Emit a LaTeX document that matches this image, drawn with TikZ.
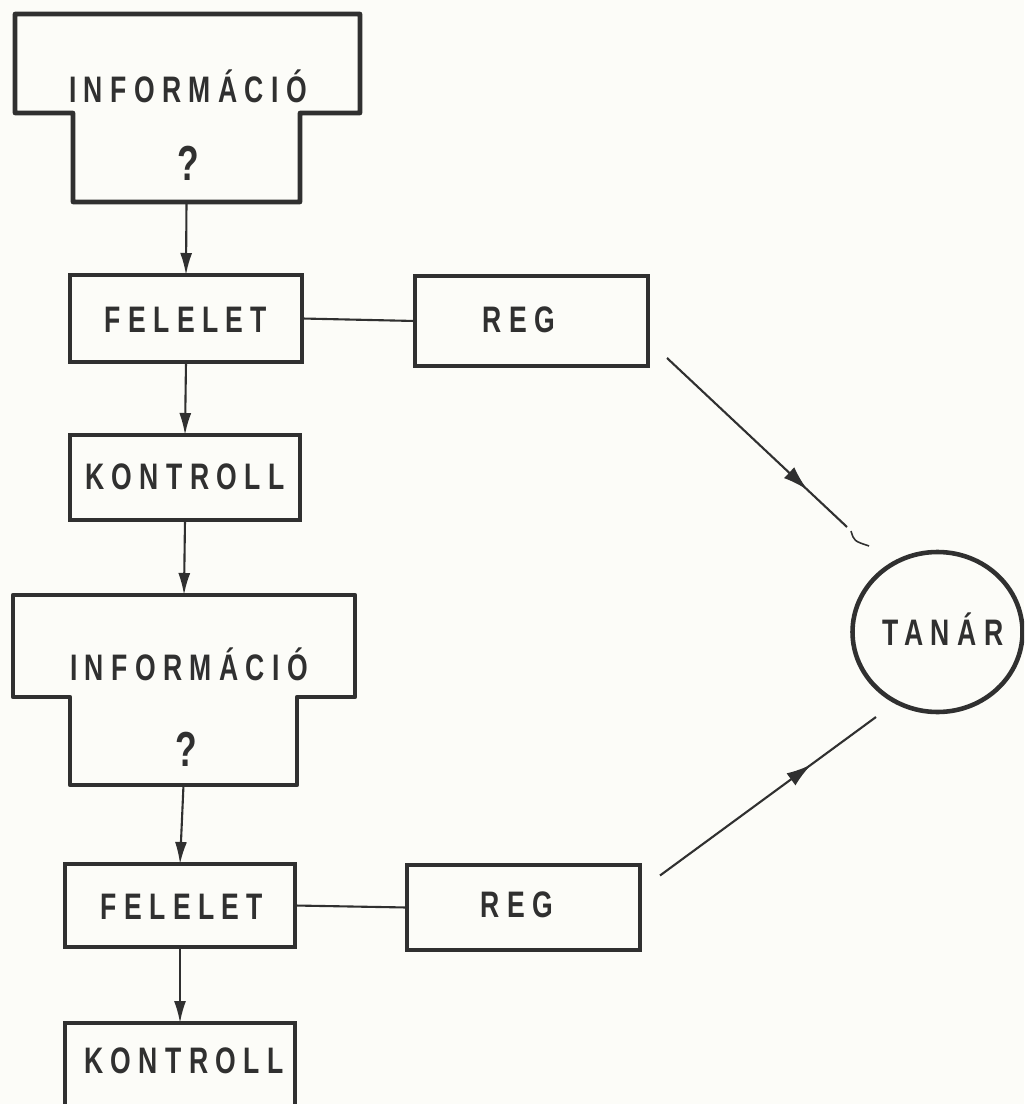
\documentclass[tikz,border=0pt]{standalone}
\usepackage{fontspec}
\usetikzlibrary{arrows.meta,shapes.geometric,decorations.markings,calc}
\newfontfamily\lettering{Liberation Sans Bold}[LetterSpace=20,FakeStretch=0.72]
\definecolor{ink}{HTML}{303030}
\definecolor{paper}{HTML}{FCFCF8}
\tikzset{
  size/.style 2 args={minimum width=#1*0.02cm,minimum height=#2*0.02cm},
  frame/.style={draw=ink,line width=2.6pt,inner sep=0pt,outer sep=0pt},
  part/.style={inner sep=0pt,outer sep=0pt},
  lbl/.style={font=\lettering\fontsize{21}{23}\selectfont,text=ink,inner sep=0pt},
  qmark/.style={font=\lettering\fontsize{28}{30}\selectfont,text=ink,inner sep=0pt},
  link/.style={draw=ink,line width=1.2pt},
  flow/.style={link,-{Latex[length=0.44cm,width=0.24cm]}},
  midarrow/.style={link,postaction={decorate},
    decoration={markings,mark=at position #1 with {\arrow{Latex[length=0.5cm,width=0.3cm]}}}}
}
\begin{document}
\begin{tikzpicture}[x=0.02cm,y=-0.02cm]
\fill[paper] (0,0) rectangle (1024,1104);
\useasboundingbox (0,0) rectangle (1024,1104);
\begin{scope}
\clip (0,0) rectangle (1024,1104);

% first information block (stepped outline)
\node[part,size={345}{99}] (info1) at (187.5,63.5) {};
\node[part,size={227}{89}] (ask1) at (186.5,157.5) {};
\draw[ink,line width=2.6pt,line join=round]
  (info1.north west) -- (info1.north east) -- (info1.south east)
  -- (ask1.north east) -- (ask1.south east) -- (ask1.south west)
  -- (ask1.north west) -- (info1.south west) -- cycle;
\node[lbl] (info1text) at (188,86) {INFORMÁCIÓ};
\node[qmark] (ask1text) at (188,163) {?};

% first answer row
\node[frame,size={232}{87}] (fel1) at (186,318.5) {};
\node[lbl] (fel1text) at (186,320) {FELELET};
\node[frame,size={233}{90}] (reg1) at (531.5,321) {};
\node[lbl] (reg1text) at (519,320) {REG};
\node[frame,size={230}{85}] (kon1) at (185,477.5) {};
\node[lbl] (kon1text) at (185,477) {KONTROLL};

% second information block
\node[part,size={342}{102}] (info2) at (184,646) {};
\node[part,size={227}{88}] (ask2) at (183.5,741) {};
\draw[ink,line width=2.6pt,line join=round]
  (info2.north west) -- (info2.north east) -- (info2.south east)
  -- (ask2.north east) -- (ask2.south east) -- (ask2.south west)
  -- (ask2.north west) -- (info2.south west) -- cycle;
\node[lbl] (info2text) at (189,664) {INFORMÁCIÓ};
\node[qmark] (ask2text) at (186,749) {?};

% second answer row
\node[frame,size={230}{83}] (fel2) at (180,905.5) {};
\node[lbl] (fel2text) at (182,907) {FELELET};
\node[frame,size={233}{85}] (reg2) at (523.5,907.5) {};
\node[lbl] (reg2text) at (517,905) {REG};
\node[frame,size={230}{107}] (kon2) at (180,1076.5) {};
\node[lbl] (kon2text) at (184,1061) {KONTROLL};

% teacher
\node[frame,shape=ellipse,size={170}{160}] (tanar) at (937.5,632) {};
\node[lbl] (tanartext) at (943,629) {TANÁR};

% vertical flow
\draw[flow] (ask1.south) -- (fel1.north);
\draw[flow] (fel1.south) -- (kon1.north);
\draw[flow] (kon1.south) -- (info2.north);
\draw[flow] (ask2.south) -- (fel2.north);
\draw[flow] (fel2.south) -- (kon2.north);

% answer to register
\draw[link] (fel1.east) -- (reg1.west);
\draw[link] (fel2.east) -- (reg2.west);

% registers report to the teacher
\coordinate (up-start) at ($(reg1.south east)+(19,-8)$);
\coordinate (up-end) at (847,527);
\coordinate (low-start) at ($(reg2.east)+(20,-32)$);
\coordinate (low-end) at (876,717);
\draw[midarrow=0.78] (up-start) -- (up-end);
\draw[link,line width=0.9pt] (851,531) .. controls (854,541) .. (869,546);
\draw[midarrow=0.70] (low-start) -- (low-end);
\end{scope}
\end{tikzpicture}
\end{document}
